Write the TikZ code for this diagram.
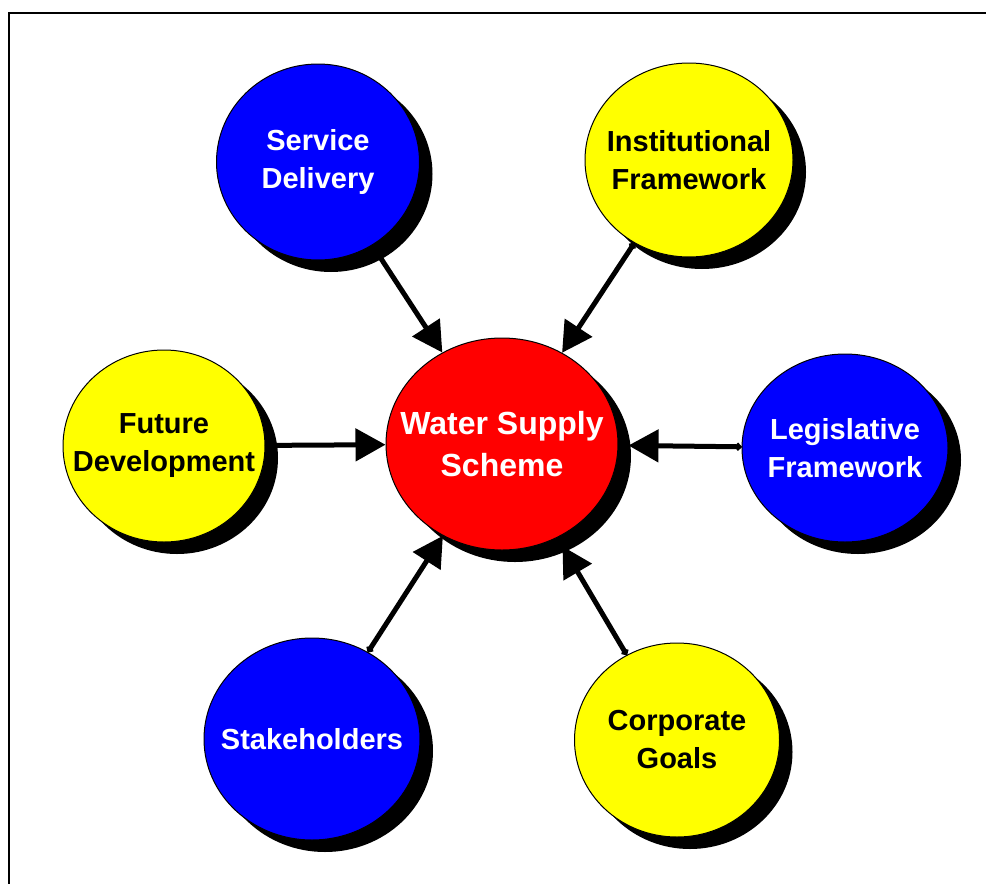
\documentclass[tikz,border=0pt]{standalone}
\usepackage{fontspec}
\setmainfont{Liberation Sans}
\usetikzlibrary{arrows.meta,shapes.geometric,shadows}
\definecolor{wsblue}{RGB}{0,0,255}
\definecolor{wsyellow}{RGB}{255,255,0}
\definecolor{wsred}{RGB}{255,0,0}

\begin{document}
\begin{tikzpicture}[x=1pt,y=-1pt,
  bubble/.style={ellipse,draw,line width=1pt,inner sep=0pt,
    drop shadow={shadow xshift=13pt,shadow yshift=-12pt,fill=black,opacity=1}},
  txt/.style={font=\fontsize{29}{38}\selectfont\bfseries,align=center},
  feed/.style={line width=5pt,{Circle[length=7pt]}-{Triangle[length=30pt,width=32pt]}}]
 \useasboundingbox (0,0) rectangle (986,884);
 \draw[line width=2.5pt] (9,884) |- (986,13);
 % hub
 \node[bubble,fill=wsred,minimum width=232pt,minimum height=212pt,
   label={[txt,text=white,font=\fontsize{32}{42}\selectfont\bfseries]center:Water Supply\\Scheme}] (ws) at (502,444) {};
 % spokes
 \node[bubble,fill=wsblue,minimum width=203pt,minimum height=196pt,
   label={[txt,text=white]center:Service\\Delivery}] (sd) at (318,162) {};
 \node[bubble,fill=wsyellow,minimum width=208pt,minimum height=194pt,
   label={[txt]center:Institutional\\Framework}] (inf) at (689,160) {};
 \node[bubble,fill=wsyellow,minimum width=202pt,minimum height=192pt,
   label={[txt]center:Future\\Development}] (fd) at (164,446) {};
 \node[bubble,fill=wsblue,minimum width=206pt,minimum height=188pt,
   label={[txt,text=white]center:Legislative\\Framework}] (lf) at (845,448) {};
 \node[bubble,fill=wsblue,minimum width=216pt,minimum height=202pt,
   label={[txt,text=white]center:Stakeholders}] (sh) at (312,739) {};
 \node[bubble,fill=wsyellow,minimum width=205pt,minimum height=194pt,
   label={[txt]center:Corporate\\Goals}] (cg) at (677,740) {};
 % arrows stop at the shadow on the lower right
 \foreach \s/\gap in {sd/0,inf/0,fd/0,lf/10,sh/0,cg/10}
   \draw[feed,shorten >=\gap pt] (\s) -- (ws);
\end{tikzpicture}
\end{document}
